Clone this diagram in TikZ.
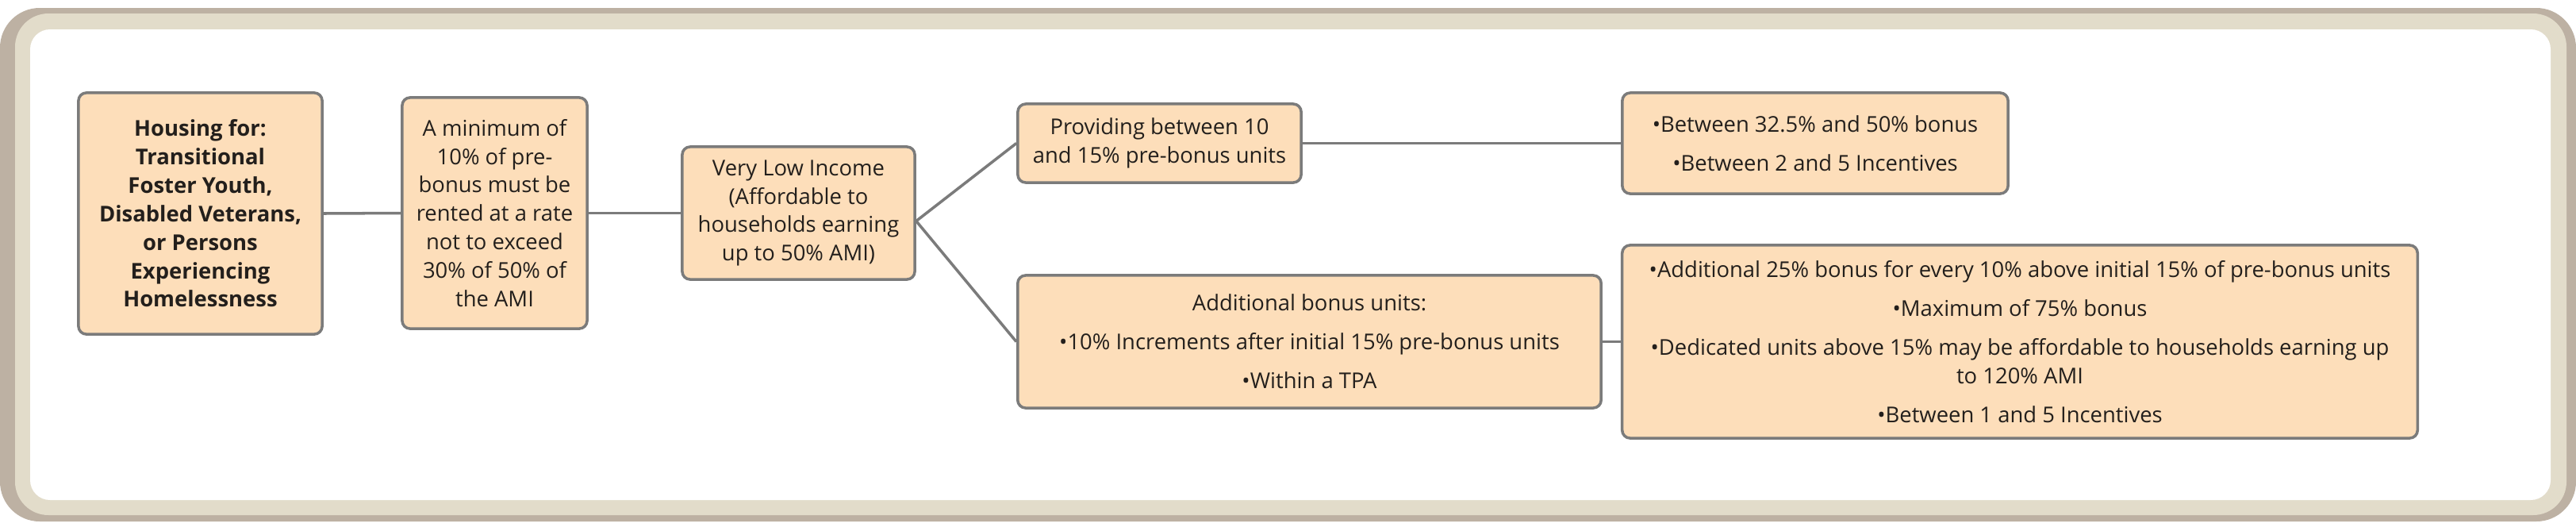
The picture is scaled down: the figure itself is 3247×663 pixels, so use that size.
\documentclass[tikz,border=0pt]{standalone}
\usepackage{fontspec}
\setmainfont{Open Sans}
\usepackage{xcolor}
\usepackage{tikz}
\definecolor{Peach}{HTML}{FDDEBA}
\definecolor{Edge}{HTML}{7B7B7B}
\definecolor{Band}{HTML}{E2DCCA}
\definecolor{Rim}{HTML}{BDB1A3}
\definecolor{Ink}{HTML}{231F1C}
\tikzset{
  card/.style={draw=Edge, line width=1pt, fill=Peach, rounded corners=0.1cm, align=center, text=Ink, inner sep=0pt, font=\fontsize{7.8}{10.2}\selectfont},
  cardbold/.style={card, font=\fontsize{7.8}{10.2}\selectfont\bfseries},
  link/.style={draw=Edge, line width=1pt},
}

\begin{document}
\begin{tikzpicture}[x=0.01cm, y=-0.01cm]%
\useasboundingbox (0,0) rectangle (3247,663);%
\fill[Rim, rounded corners=0.5cm] (0,10) rectangle (3247,657);%
\fill[Band, rounded corners=0.42cm] (19,17) rectangle (3235,649);%
\fill[white, rounded corners=0.25cm] (38,37) rectangle (3215,630);%
\node[cardbold, minimum width=3.07cm, minimum height=3.04cm] (house) at (252.5,269) {Housing for:\\Transitional\\Foster Youth,\\Disabled Veterans,\\or Persons\\Experiencing\\Homelessness};%
\node[card, minimum width=2.33cm, minimum height=2.91cm] (rent) at (623.5,268.5) {A minimum of\\10\% of pre-\\bonus must be\\rented at a rate\\not to exceed\\30\% of 50\% of\\the AMI};%
\node[card, minimum width=2.93cm, minimum height=1.67cm] (vli) at (1006.5,268.5) {Very Low Income\\(Affordable to\\households earning\\up to 50\% AMI)};%
\node[card, minimum width=3.57cm, minimum height=0.99cm] (prov) at (1461.5,180.5) {Providing between 10\\and 15\% pre-bonus units};%
\node[card, minimum width=7.35cm, minimum height=1.67cm] (addl) at (1650.5,430.5) {Additional bonus units:\\[0.13cm]•10\% Increments after initial 15\% pre-bonus units\\[0.13cm]•Within a TPA};%
\node[card, minimum width=4.86cm, minimum height=1.27cm] (bonusA) at (2288,180.5) {•Between 32.5\% and 50\% bonus\\[0.13cm]•Between 2 and 5 Incentives};%
\node[card, minimum width=10.02cm, minimum height=2.43cm] (bonusB) at (2546,430.5) {•Additional 25\% bonus for every 10\% above initial 15\% of pre-bonus units\\[0.13cm]•Maximum of 75\% bonus\\[0.13cm]•Dedicated units above 15\% may be affordable to households earning up\\to 120\% AMI\\[0.13cm]•Between 1 and 5 Incentives};%
\draw[link] (house.east) -- (rent.west);%
\draw[link] (rent.east) -- (vli.west);%
\draw[link] ([yshift=-0.1cm]vli.east) -- (prov.west);%
\draw[link] ([yshift=-0.1cm]vli.east) -- (addl.west);%
\draw[link] (prov.east) -- (bonusA.west);%
\draw[link] (addl.east) -- (bonusB.west);%
\end{tikzpicture}
\end{document}
